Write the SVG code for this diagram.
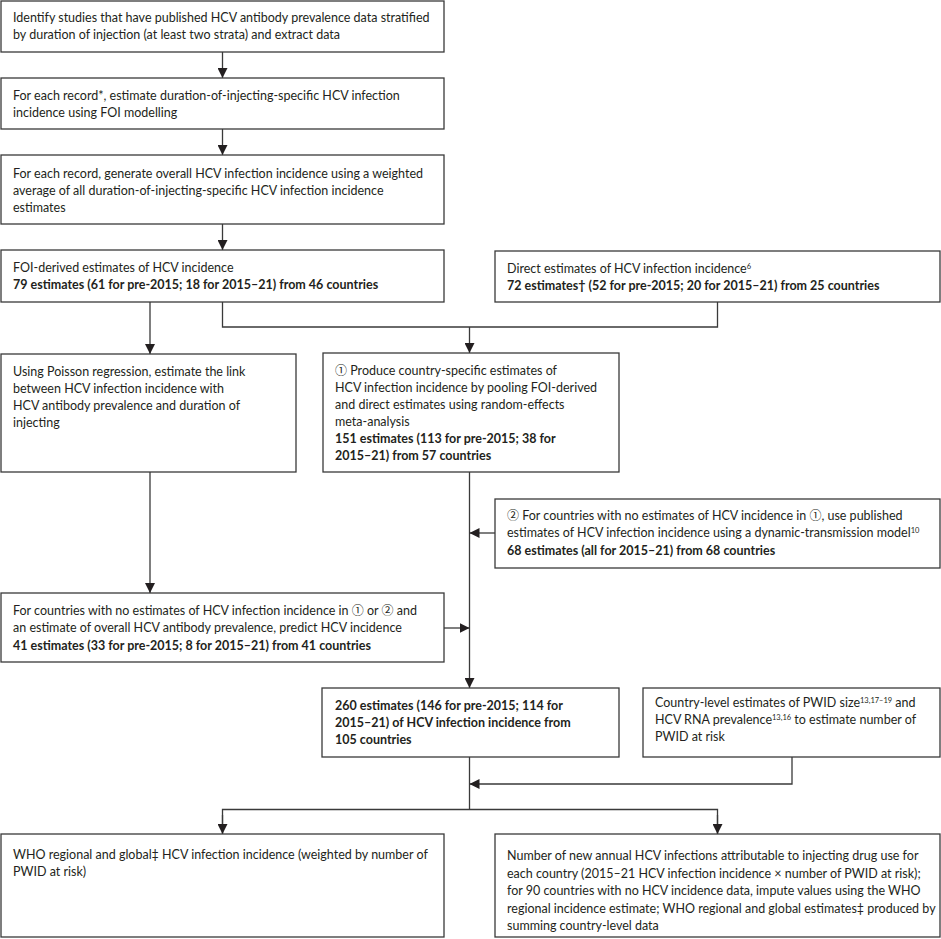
<svg xmlns="http://www.w3.org/2000/svg" width="941" height="939" viewBox="0 0 941 939">
<style>
text{font-family:Lato,"Open Sans","Liberation Sans","DejaVu Sans",sans-serif;font-size:12.5px;fill:#231f20}
.b{font-weight:bold}
.sup{font-size:7.5px}
.cd{font-family:"Noto Sans CJK SC","Noto Sans CJK JP",sans-serif;font-size:12px}
rect{fill:#fff;stroke:#3a3a3a;stroke-width:1.3}
.c{fill:none;stroke:#3a3a3a;stroke-width:1.3}
</style>
<defs>
<marker id="ah" markerUnits="userSpaceOnUse" markerWidth="11" markerHeight="10" refX="10" refY="5" orient="auto">
<path d="M0,0 L10,5 L0,10 z" fill="#231f20"/>
</marker>
</defs>
<rect x="0" y="0" width="941" height="939" style="fill:#fff;stroke:none"/>
<g id="connectors">
<path class="c" d="M222.5,52 V78" marker-end="url(#ah)"/>
<path class="c" d="M222.5,129 V155" marker-end="url(#ah)"/>
<path class="c" d="M222.5,224 V250" marker-end="url(#ah)"/>
<path class="c" d="M150,302 V354" marker-end="url(#ah)"/>
<path class="c" d="M222.5,302 V327 H717.5 V302"/>
<path class="c" d="M469.5,327 V353" marker-end="url(#ah)"/>
<path class="c" d="M469.5,472 V688" marker-end="url(#ah)"/>
<path class="c" d="M495,533 H469.5" marker-end="url(#ah)"/>
<path class="c" d="M150,472 V593" marker-end="url(#ah)"/>
<path class="c" d="M444,628 H469.5" marker-end="url(#ah)"/>
<path class="c" d="M792,757 V784 H469.5" marker-end="url(#ah)"/>
<path class="c" d="M469.5,757 V809.5"/>
<path class="c" d="M222.5,834 V809.5 H717.5 V834"/>
<path class="c" d="M222.5,815 V834" marker-end="url(#ah)"/>
<path class="c" d="M717.5,815 V834" marker-end="url(#ah)"/>
</g>
<g id="n1">
<rect x="1" y="1" width="443" height="51"/>
<text x="13" y="22">Identify studies that have published HCV antibody prevalence data stratified</text>
<text x="13" y="39">by duration of injection (at least two strata) and extract data</text>
</g>
<g id="n2">
<rect x="1" y="78" width="443" height="51"/>
<text x="13" y="100">For each record*, estimate duration-of-injecting-specific HCV infection</text>
<text x="13" y="117">incidence using FOI modelling</text>
</g>
<g id="n3">
<rect x="1" y="155" width="443" height="69"/>
<text x="13" y="177.5">For each record, generate overall HCV infection incidence using a weighted</text>
<text x="13" y="194.5">average of all duration-of-injecting-specific HCV infection incidence</text>
<text x="13" y="211.5">estimates</text>
</g>
<g id="n4">
<rect x="1" y="250" width="443" height="52"/>
<text x="13" y="272">FOI-derived estimates of HCV incidence</text>
<text x="13" y="289" class="b">79 estimates (61 for pre-2015; 18 for 2015–21) from 46 countries</text>
</g>
<g id="n5">
<rect x="495" y="251" width="445" height="51"/>
<text x="507" y="273">Direct estimates of HCV infection incidence<tspan class="sup" dy="-4.5">6</tspan></text>
<text x="507" y="290" class="b">72 estimates† (52 for pre-2015; 20 for 2015–21) from 25 countries</text>
</g>
<g id="n6">
<rect x="1" y="354" width="295" height="118"/>
<text x="13" y="375.5">Using Poisson regression, estimate the link</text>
<text x="13" y="392.5">between HCV infection incidence with</text>
<text x="13" y="409.5">HCV antibody prevalence and duration of</text>
<text x="13" y="426.5">injecting</text>
</g>
<g id="n7">
<rect x="323" y="353" width="296" height="119"/>
<text x="335" y="374.5"><tspan class="cd">①</tspan> Produce country-specific estimates of</text>
<text x="335" y="391.5">HCV infection incidence by pooling FOI-derived</text>
<text x="335" y="408.5">and direct estimates using random-effects</text>
<text x="335" y="425.5">meta-analysis</text>
<text x="335" y="443" class="b">151 estimates (113 for pre-2015; 38 for</text>
<text x="335" y="460" class="b">2015–21) from 57 countries</text>
</g>
<g id="n8">
<rect x="495" y="499" width="445" height="69"/>
<text x="507" y="519.5"><tspan class="cd">②</tspan> For countries with no estimates of HCV incidence in <tspan class="cd">①</tspan>, use published</text>
<text x="507" y="537">estimates of HCV infection incidence using a dynamic-transmission model<tspan class="sup" dy="-4.5">10</tspan></text>
<text x="507" y="554.5" class="b">68 estimates (all for 2015–21) from 68 countries</text>
</g>
<g id="n9">
<rect x="1" y="593" width="443" height="69"/>
<text x="13" y="614.5">For countries with no estimates of HCV infection incidence in <tspan class="cd">①</tspan> or <tspan class="cd">②</tspan> and</text>
<text x="13" y="632">an estimate of overall HCV antibody prevalence, predict HCV incidence</text>
<text x="13" y="649.5" class="b">41 estimates (33 for pre-2015; 8 for 2015–21) from 41 countries</text>
</g>
<g id="n10">
<rect x="322" y="688" width="297" height="69"/>
<text x="335" y="709.5" class="b">260 estimates (146 for pre-2015; 114 for</text>
<text x="335" y="726.5" class="b">2015–21) of HCV infection incidence from</text>
<text x="335" y="743.5" class="b">105 countries</text>
</g>
<g id="n11">
<rect x="643" y="688" width="297" height="69"/>
<text x="655" y="707">Country-level estimates of PWID size<tspan class="sup" dy="-4.5">13,17–19</tspan><tspan dy="4.5"> and</tspan></text>
<text x="655" y="724">HCV RNA prevalence<tspan class="sup" dy="-4.5">13,16</tspan><tspan dy="4.5"> to estimate number of</tspan></text>
<text x="655" y="741">PWID at risk</text>
</g>
<g id="n12">
<rect x="1" y="834" width="443" height="103"/>
<text x="13" y="859">WHO regional and global‡ HCV infection incidence (weighted by number of</text>
<text x="13" y="876">PWID at risk)</text>
</g>
<g id="n13">
<rect x="495" y="834" width="445" height="103"/>
<text x="507" y="860">Number of new annual HCV infections attributable to injecting drug use for</text>
<text x="507" y="877.5">each country (2015–21 HCV infection incidence × number of PWID at risk);</text>
<text x="507" y="895">for 90 countries with no HCV incidence data, impute values using the WHO</text>
<text x="507" y="912.5">regional incidence estimate; WHO regional and global estimates‡ produced by</text>
<text x="507" y="930">summing country-level data</text>
</g>
</svg>
